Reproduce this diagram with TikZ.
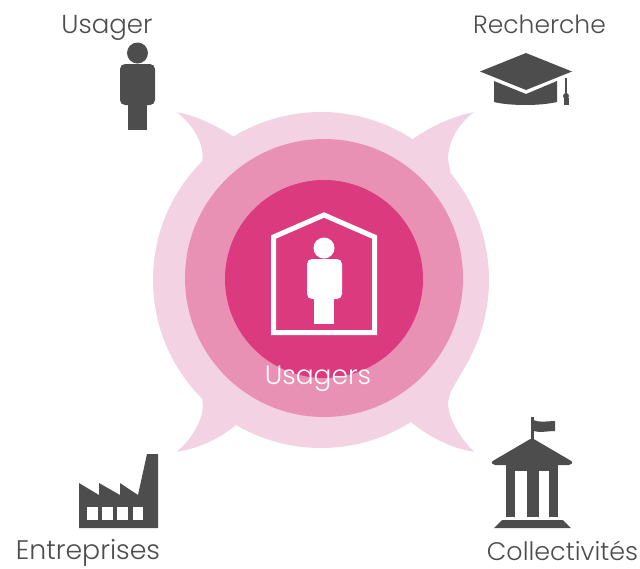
\documentclass[tikz,border=0pt]{standalone}
\usepackage{fontspec}
\setmainfont{Poppins Light}
\definecolor{ringout}{HTML}{F3D2E4}
\definecolor{ringmid}{HTML}{E991B5}
\definecolor{ringin}{HTML}{DC3A7E}
\definecolor{icongray}{HTML}{4D4D4D}
\tikzset{
  iconlabel/.style={anchor=base,inner sep=0pt,text=icongray,font=\fontsize{26}{26}\selectfont},
  darkicon/.style={fill=icongray},
  whiteicon/.style={fill=white}
}
\begin{document}
\begin{tikzpicture}[x=1pt,y=-1pt]
\useasboundingbox (0,0) rectangle (640,568);

% rings and horns
\fill[ringout] (260,170) -- (232.7,136) .. controls (215,125) and (195,115) .. (176.7,112.3) .. controls (190,122) and (205,142) .. (202.3,161) -- cycle;
\fill[ringout] (385,170) -- (413,139) .. controls (428,128) and (452,116) .. (474,112.3) .. controls (460,122) and (448,140) .. (448,160) -- (450.5,172) -- cycle;
\fill[ringout] (260,395) -- (235,426) .. controls (220,438) and (198,449) .. (176.7,451.7) .. controls (190,441) and (206,418) .. (202.3,400) -- cycle;
\fill[ringout] (385,395) -- (412,423) .. controls (428,436) and (452,449) .. (474,451.7) .. controls (462,440) and (448,420) .. (448,402) -- (450.7,391.7) -- (470,358) -- cycle;
\fill[ringout] (321,280) circle (168);
\fill[ringmid] (324,278) circle (139);
\fill[ringin] (324,279) circle (99);

% house
\draw[white,line width=5pt,line join=miter] (273.5,332.5) -- (273.5,237) -- (324,215) -- (374.5,237) -- (374.5,332.5) -- cycle;
\fill[whiteicon] (324,248) circle (10.5);
\fill[whiteicon,rounded corners=5pt] (307,259) rectangle (342,299);
\fill[whiteicon] (314,295) rectangle (334,324);
\node[inner sep=0pt,anchor=base,text=white,font=\fontsize{26.5}{26.5}\selectfont] (usagers) at (318,384) {Usagers};

% usager
\fill[darkicon] (137.5,53) circle (10.5);
\fill[darkicon,rounded corners=5pt] (120,64) rectangle (155,105);
\fill[darkicon] (128,100) rectangle (147,130);
\node[iconlabel] (usager) at (107,33) {Usager};

% recherche
\fill[darkicon] (526,53) -- (572,71.5) -- (526,90) -- (480,71.5) -- cycle;
\fill[darkicon] (494,81) -- (526,94) -- (557,81) -- (557,102) .. controls (540,106) and (510,106) .. (494,102) -- cycle;
\fill[darkicon] (565,78) rectangle (567,100);
\fill[darkicon] (566,96) circle (3);
\fill[darkicon] (563.5,98) rectangle (568.5,105);
\node[iconlabel,font=\fontsize{25}{25}\selectfont] (recherche) at (539.5,33) {Recherche};

% entreprises
\fill[darkicon] (79,528) -- (79,483) -- (99,495) -- (99,483) -- (120,495) -- (120,483) -- (138,495) -- (147,454) -- (158,454) -- (158,528) -- cycle;
\fill[whiteicon] (87,507) rectangle (98,520);
\fill[whiteicon] (102,507) rectangle (113,520);
\fill[whiteicon] (117,507) rectangle (128,520);
\fill[whiteicon] (133,507) rectangle (143,520);
\node[iconlabel,font=\fontsize{26.8}{26.8}\selectfont] (entreprises) at (88,559.5) {Entreprises};

% collectivites
\fill[darkicon] (531,417) rectangle (533.5,440);
\fill[darkicon] (533,420) .. controls (540,423) and (548,421) .. (555,421) -- (555,431) .. controls (548,431) and (540,433) .. (533,431) -- cycle;
\fill[darkicon,rounded corners=2pt] (532,438) -- (573,462) -- (571,465) -- (493,465) -- (491,462) -- cycle;
\fill[darkicon] (506,465) rectangle (558,471);
\fill[darkicon] (506,465) rectangle (515,517);
\fill[darkicon] (527,465) rectangle (539,517);
\fill[darkicon] (549,465) rectangle (558,517);
\fill[darkicon] (502,520) -- (563,520) -- (571,528) -- (494,528) -- cycle;
\node[iconlabel,font=\fontsize{25.4}{25.4}\selectfont] (collectivites) at (562.5,560) {Collectivités};
\end{tikzpicture}
\end{document}
